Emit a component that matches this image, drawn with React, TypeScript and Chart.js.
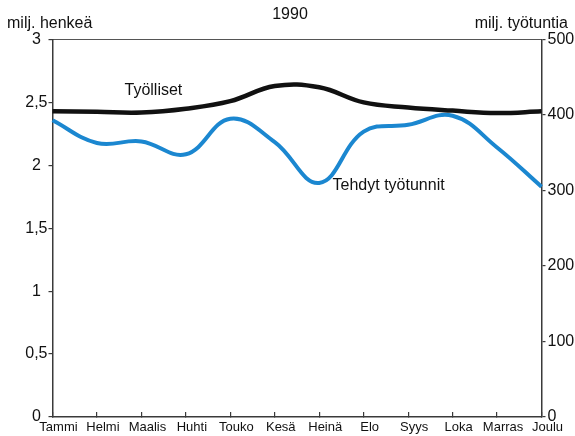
import React, { useEffect, useRef } from "react";
import { Chart, registerables } from "chart.js";

Chart.register(...registerables);

const months = ["Tammi", "Helmi", "Maalis", "Huhti", "Touko", "Kesä", "Heinä", "Elo", "Syys", "Loka", "Marras", "Joulu"];
const employed = [2.43, 2.425, 2.42, 2.45, 2.51, 2.63, 2.62, 2.5, 2.46, 2.435, 2.415, 2.43];
const hoursWorked = [393, 363, 365, 348, 395, 364, 310, 378, 387, 399, 357, 305];
const seriesNames = ["Työlliset", "Tehdyt työtunnit"];
const chartTitle = "1990";
const leftAxisTitle = "milj. henkeä";
const rightAxisTitle = "milj. työtuntia";

const FONT = '"Liberation Sans", Arial, Helvetica, sans-serif';

const textPlugin = {
  id: "annotText",
  afterDatasetsDraw(chart: any) {
    const { ctx, chartArea, scales } = chart;
    ctx.save();
    ctx.font = `16px ${FONT}`;
    ctx.fillStyle = "#111";
    ctx.textBaseline = "alphabetic";
    ctx.textAlign = "left";
    ctx.fillText(leftAxisTitle, 7, 28);
    ctx.textAlign = "right";
    ctx.fillText(rightAxisTitle, chart.width - 7, 28);
    ctx.textAlign = "center";
    ctx.fillText(chartTitle, (chartArea.left + chartArea.right) / 2 - 7, 19);
    ctx.textBaseline = "middle";
    ctx.textAlign = "center";
    ctx.fillText(seriesNames[0], scales.x.getPixelForValue(2.27), scales.y.getPixelForValue(2.59));
    ctx.textAlign = "left";
    ctx.fillText(seriesNames[1], scales.x.getPixelForValue(6.3), scales.y1.getPixelForValue(306));
    ctx.restore();
  },
};

export default function App() {
  const ref = useRef<HTMLCanvasElement | null>(null);
  useEffect(() => {
    document.body.style.margin = "0";
    const canvas = ref.current;
    if (!canvas) return;
    const axisColor = "#3a3a3a";
    const chart = new Chart(canvas, {
      type: "line",
      data: {
        labels: months,
        datasets: [
          {
            label: seriesNames[0],
            data: employed,
            yAxisID: "y",
            borderColor: "#111111",
            borderWidth: 4.5,
            pointRadius: 0,
            tension: 0.4,
            fill: false,
          },
          {
            label: seriesNames[1],
            data: hoursWorked,
            yAxisID: "y1",
            borderColor: "#1b87d0",
            borderWidth: 4,
            pointRadius: 0,
            tension: 0.4,
            fill: false,
          },
        ],
      },
      options: {
        responsive: false,
        maintainAspectRatio: false,
        devicePixelRatio: 1,
        animation: false,
        layout: { padding: { top: 39.5, left: 0, right: 0, bottom: 0 } },
        plugins: {
          legend: { display: false },
          tooltip: { enabled: false },
          title: { display: false },
        },
        scales: {
          x: {
            type: "category",
            position: "bottom",
            offset: false,
            grid: {
              display: true,
              drawOnChartArea: false,
              drawTicks: true,
              tickLength: -5,
              color: axisColor,
              lineWidth: 1.2,
            },
            border: { display: true, color: axisColor, width: 1.5 },
            ticks: {
              autoSkip: false,
              maxRotation: 0,
              minRotation: 0,
              padding: 8,
              labelOffset: 6,
              color: "#111",
              font: { family: FONT, size: 13 },
            },
            afterFit: (s: any) => {
              s.height = 19;
            },
          },
          x2: {
            type: "category",
            position: "top",
            offset: false,
            grid: { display: false, drawTicks: false },
            border: { display: true, color: "#555", width: 1 },
            ticks: { display: false },
            afterFit: (s: any) => {
              s.height = 0;
            },
          },
          y: {
            type: "linear",
            position: "left",
            min: 0,
            max: 3,
            grid: {
              display: true,
              drawOnChartArea: false,
              drawTicks: true,
              tickLength: 4,
              color: axisColor,
              lineWidth: 1.2,
            },
            border: { display: true, color: axisColor, width: 1.5 },
            ticks: {
              stepSize: 0.5,
              padding: 1,
              crossAlign: "center",
              color: "#111",
              font: { family: FONT, size: 16 },
              callback: (v: any) => String(v).replace(".", ","),
            },
            afterFit: (s: any) => {
              s.width = 52.5;
            },
          },
          y1: {
            type: "linear",
            position: "right",
            min: 0,
            max: 500,
            grid: {
              display: true,
              drawOnChartArea: false,
              drawTicks: true,
              tickLength: 4,
              color: axisColor,
              lineWidth: 1.2,
            },
            border: { display: true, color: axisColor, width: 1.5 },
            ticks: {
              stepSize: 100,
              padding: 2,
              color: "#111",
              font: { family: FONT, size: 16 },
            },
            afterFit: (s: any) => {
              s.width = 33.5;
            },
          },
        },
      },
      plugins: [textPlugin],
    } as any);
    return () => chart.destroy();
  }, []);

  return (
    <div style={{ position: "absolute", left: 0, top: 0, width: 575, height: 436, background: "#fff" }}>
      <canvas ref={ref} width={575} height={436} style={{ display: "block" }} />
    </div>
  );
}
